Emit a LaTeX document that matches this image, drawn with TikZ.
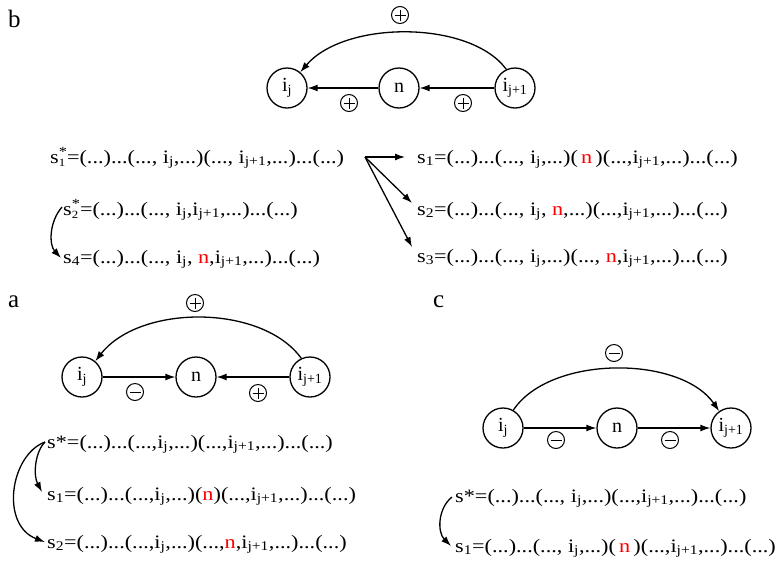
\documentclass[tikz,border=0pt]{standalone}
\usepackage{fontspec}
\setmainfont{Liberation Serif}
\newfontfamily\stfont[FakeStretch=1.17]{Liberation Serif}
\usetikzlibrary{arrows.meta}
\newcommand{\subx}[1]{\textsubscript{#1}}
\newcommand{\stk}[2]{\raisebox{0.2ex}{\fontsize{11}{8.5}\selectfont\begin{tabular}[c]{@{}l@{}}{\fontsize{14}{8.5}\selectfont #1}\\#2\end{tabular}}}
\newcommand{\rn}{\textcolor{red}{n}}
\begin{document}
\begin{tikzpicture}[x=1pt,y=-1pt,
  every node/.style={font=\stfont\fontsize{19}{22}\selectfont},
  st/.style={anchor=base west,inner sep=0pt},
  vtx/.style={draw,circle,line width=1.3pt,minimum size=40pt,inner sep=0pt,font=\fontsize{20}{22}\selectfont},
  lbl/.style={anchor=base west,inner sep=0pt,font=\fontsize{25}{28}\selectfont},
  arr/.style={line width=1.3pt,-{Latex[length=10pt,width=7pt]}},
  csym/.style={line width=1pt},
  cplus/.pic={\draw[csym] (0,0) circle (8.5); \draw[csym] (-5.5,0)--(5.5,0) (0,-5.5)--(0,5.5);},
  cminus/.pic={\draw[csym] (0,0) circle (8.5); \draw[csym] (-5.5,0)--(5.5,0);}
]
\useasboundingbox (0,0) rectangle (781,563);

% ---------- panel b ----------
\node[lbl] (lb) at (8,27) {b};
\node[vtx] (bij) at (287,88) {i\subx{j}};
\node[vtx] (bn) at (399,88) {n};
\node[vtx] (bij1) at (515,88) {i\subx{j+1}};
\draw[arr] (bn) -- (bij);
\draw[arr] (bij1) -- (bn);
\draw[arr] (bij1.115) .. controls (470,20) and (345,20) .. (bij.50);
\pic at (400,15) {cplus};
\pic at (349,103) {cplus};
\pic at (463,103) {cplus};

\node[st] (bs1s) at (50,163) {s\stk{*}{1}=(...)...(..., i\subx{j},...)(..., i\subx{j+1},...)...(...)};
\node[st] (bs2s) at (63,215) {s\stk{*}{2}=(...)...(..., i\subx{j},i\subx{j+1},...)...(...)};
\node[st] (bs4) at (63,263) {s\subx{4}=(...)...(..., i\subx{j}, \rn,i\subx{j+1},...)...(...)};
\node[st] (bs1) at (417,163) {s\subx{1}=(...)...(..., i\subx{j},...)(\,\rn\,)(...,i\subx{j+1},...)...(...)};
\node[st] (bs2) at (417,215) {s\subx{2}=(...)...(..., i\subx{j}, \rn,...)(...,i\subx{j+1},...)...(...)};
\node[st] (bs3) at (417,262) {s\subx{3}=(...)...(..., i\subx{j},...)(..., \rn,i\subx{j+1},...)...(...)};

\coordinate (fan) at (365,157);
\coordinate (f1) at (405,157);
\coordinate (f2) at (412,203);
\coordinate (f3) at (412,247);
\draw[arr] (fan) -- (f1);
\draw[arr] (fan) -- (f2);
\draw[arr] (fan) -- (f3);
\coordinate (b2a) at (62,207);
\coordinate (b4a) at (61,258);
\draw[arr] (b2a) .. controls (49,222) and (49,245) .. (b4a);

% ---------- panel a ----------
\node[lbl] (la) at (8,307) {a};
\node[vtx] (aij) at (82,377) {i\subx{j}};
\node[vtx] (an) at (196,377) {n};
\node[vtx] (aij1) at (310,377) {i\subx{j+1}};
\draw[arr] (aij) -- (an);
\draw[arr] (aij1) -- (an);
\draw[arr] (aij1.115) .. controls (262,304) and (140,304) .. (aij.50);
\pic at (195,303) {cplus};
\pic at (135,392) {cminus};
\pic at (258,393) {cplus};

\node[st] (as) at (47,448) {s*=(...)...(...,i\subx{j},...)(...,i\subx{j+1},...)...(...)};
\node[st] (as1) at (47,500) {s\subx{1}=(...)...(...,i\subx{j},...)(\rn)(...,i\subx{j+1},...)...(...)};
\node[st] (as2) at (47,548) {s\subx{2}=(...)...(...,i\subx{j},...)(...,\rn,i\subx{j+1},...)...(...)};
\coordinate (asa) at (45,442);
\coordinate (as1a) at (42,492);
\coordinate (as2a) at (45,542);
\draw[arr] (asa) .. controls (35,452) and (33,475) .. (as1a);
\draw[arr] (asa) .. controls (10,455) and (0,525) .. (as2a);

% ---------- panel c ----------
\node[lbl] (lc) at (433,307) {c};
\node[vtx] (cij) at (503,428) {i\subx{j}};
\node[vtx] (cn) at (617,428) {n};
\node[vtx] (cij1) at (731,428) {i\subx{j+1}};
\draw[arr] (cij) -- (cn);
\draw[arr] (cn) -- (cij1);
\draw[arr] (cij.60) .. controls (550,355) and (680,355) .. (cij1.125);
\pic at (614,353) {cminus};
\pic at (556,440) {cminus};
\pic at (670,440) {cminus};

\node[st] (cs) at (455,502) {s*=(...)...(..., i\subx{j},...)(...,i\subx{j+1},...)...(...)};
\node[st] (cs1) at (455,552) {s\subx{1}=(...)...(..., i\subx{j},...)(\,\rn\,)(...,i\subx{j+1},...)...(...)};
\coordinate (csa) at (452,497);
\coordinate (cs1a) at (451,546);
\draw[arr] (csa) .. controls (438,508) and (437,532) .. (cs1a);
\end{tikzpicture}
\end{document}
